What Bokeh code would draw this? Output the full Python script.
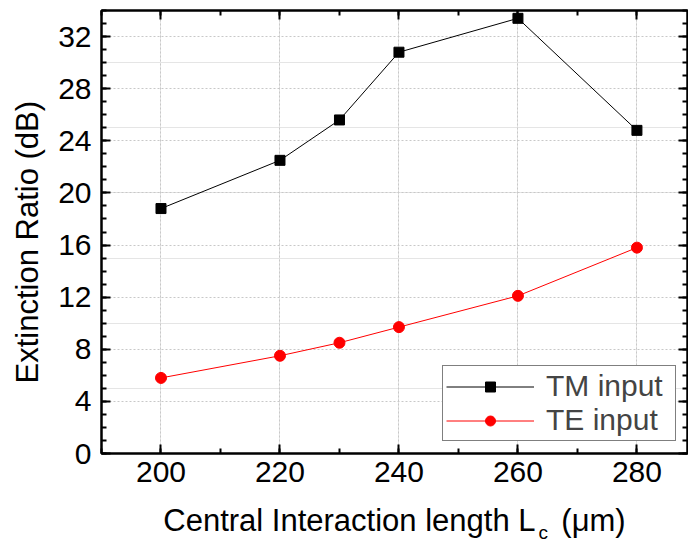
from bokeh.plotting import figure
from bokeh.models import Range1d, SingleIntervalTicker, LinearAxis, Grid, Title
from bokeh.embed import file_html
from bokeh.resources import INLINE

# Data
lengths = [200, 220, 230, 240, 260, 280]
tm_input = [18.8, 22.5, 25.6, 30.8, 33.4, 24.8]
te_input = [5.8, 7.5, 8.5, 9.7, 12.1, 15.8]
series_labels = ["TM input", "TE input"]
x_title = "Central Interaction length L"
x_sub = "c"
x_unit = "(\u03bcm)"
y_title = "Extinction Ratio (dB)"

FONT = "Liberation Sans"
X0, X1 = 190, 288.5
Y0, Y1 = 0, 34
L, R, T, B = 101, 1, 10, 89
W, H = 688, 542

p = figure(width=W, height=H, x_range=Range1d(X0, X1), y_range=Range1d(Y0, Y1),
           output_backend="svg", toolbar_location=None,
           min_border_left=L, min_border_right=R, min_border_top=T, min_border_bottom=B,
           x_axis_location=None, y_axis_location=None)
p.background_fill_color = "white"
p.border_fill_color = "white"
p.outline_line_color = "black"
p.outline_line_width = 2

xt = SingleIntervalTicker(interval=20, num_minor_ticks=2)
yt = SingleIntervalTicker(interval=4, num_minor_ticks=4)

def style_axis(ax, labels=True, standoff=8):
    ax.axis_line_width = 2
    ax.axis_line_color = "black"
    ax.major_tick_in = 9
    ax.major_tick_out = 0
    ax.minor_tick_in = 5
    ax.minor_tick_out = 0
    ax.major_tick_line_width = 2
    ax.minor_tick_line_width = 2
    ax.major_tick_line_color = "black"
    ax.minor_tick_line_color = "black"
    if labels:
        ax.major_label_text_font = FONT
        ax.major_label_text_font_size = "30px"
        ax.major_label_text_color = "black"
        ax.major_label_standoff = standoff
    else:
        ax.major_label_text_font_size = "1px"
        ax.major_label_text_color = None
        ax.major_label_standoff = 0

xb = LinearAxis(ticker=xt)
style_axis(xb, standoff=8)
xb.axis_label = x_title + "\u00a0" * 3 + x_unit
xb.axis_label_text_font = FONT
xb.axis_label_text_font_size = "31px"
xb.axis_label_text_font_style = "normal"
xb.axis_label_text_color = "black"
xb.axis_label_standoff = 18
p.add_layout(xb, "below")

yl = LinearAxis(ticker=yt)
style_axis(yl, standoff=10)
p.add_layout(yl, "left")

xa = LinearAxis(ticker=xt)
style_axis(xa, labels=False)
p.add_layout(xa, "above")
yr = LinearAxis(ticker=yt)
style_axis(yr, labels=False)
p.add_layout(yr, "right")

# subscript of L, stacked just under the axis label
p.add_layout(Title(text=x_sub, align="left", offset=437, vertical_align="top",
                   standoff=-37, text_font=FONT, text_font_size="19px",
                   text_font_style="normal", text_color="black"), "below")

# y axis title
p.add_layout(Title(text=y_title, align="left", offset=70, vertical_align="top",
                   standoff=17, text_font=FONT, text_font_size="31px",
                   text_font_style="normal", text_color="black"), "left")

gx = Grid(dimension=0, ticker=xt, grid_line_color="#c8c8c8", grid_line_dash="2 2", grid_line_width=1)
gy = Grid(dimension=1, ticker=yt, grid_line_color="#c8c8c8", grid_line_dash="2 2", grid_line_width=1)
p.add_layout(gx)
p.add_layout(gy)

p.line(lengths, tm_input, line_color="black", line_width=1, legend_label=series_labels[0])
p.scatter(lengths, tm_input, marker="square", size=10, fill_color="black", line_color="black",
          legend_label=series_labels[0])
p.line(lengths, te_input, line_color="red", line_width=1, legend_label=series_labels[1])
p.scatter(lengths, te_input, marker="circle", size=11, fill_color="red", line_color="red",
          legend_label=series_labels[1])

lg = p.legend[0]
lg.location = (442 - L, (H - B) - 441)
lg.border_line_color = "black"
lg.border_line_width = 1
lg.background_fill_color = "white"
lg.background_fill_alpha = 1
lg.label_text_font = FONT
lg.label_text_font_size = "30px"
lg.glyph_width = 88
lg.glyph_height = 25
lg.label_height = 20
lg.label_width = 126
lg.label_standoff = 12
lg.spacing = 0
lg.padding = 3
lg.margin = 0

open("out.html", "w").write(file_html(p, INLINE))
